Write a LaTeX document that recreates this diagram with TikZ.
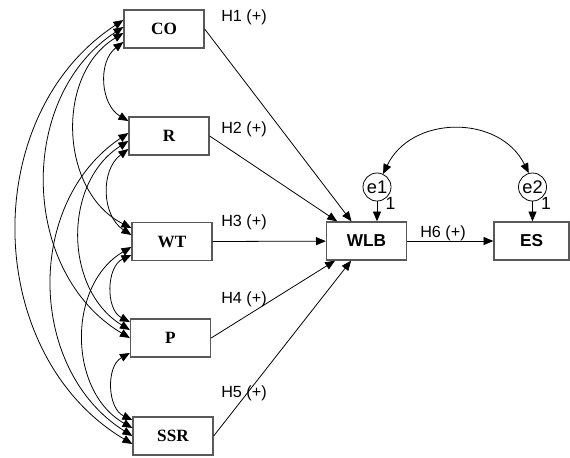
\documentclass[tikz,border=0pt]{standalone}
\usepackage{fontspec}
\setmainfont{Liberation Sans}
\newfontfamily\timesfont{Liberation Serif}
\usepackage{tikz}
\usetikzlibrary{arrows.meta}

\begin{document}
\begin{tikzpicture}[>={Triangle[length=5.6pt,width=4.6pt]}]
\tikzstyle{every path}=[line width=0.45pt]

\edef\boxw{1.6cm}
\edef\boxh{0.76cm}
\tikzstyle{varbox}=[draw=black!65,line width=0.75pt,minimum width=\boxw,minimum height=\boxh,inner sep=0pt]
\tikzstyle{exo}=[varbox,font=\timesfont\bfseries\fontsize{9.8}{11}\selectfont]
\tikzstyle{endo}=[varbox,font=\bfseries\fontsize{9.8}{11}\selectfont]
\tikzstyle{err}=[draw,circle,minimum size=0.56cm,inner sep=0pt,font=\fontsize{10.4}{11}\selectfont]
\tikzstyle{hyp}=[font=\fontsize{9.2}{11}\selectfont,inner sep=0pt]
\tikzstyle{cov}=[<->,looseness=1.05]

\useasboundingbox (0,0) rectangle (11.4,9.14);

\node [exo] (CO) at (3.28,8.56) {CO};
\node [exo] (R) at (3.38,6.42) {R};
\node [exo] (WT) at (3.44,4.31) {WT};
\node [exo] (P) at (3.41,2.38) {P};
\node [exo] (SSR) at (3.46,0.42) {SSR};

\node [endo] (WLB) at (7.33,4.32) {WLB};
\node [endo,minimum width=1.5cm] (ES) at (10.63,4.32) {ES};

\node [err] (e1) at (7.54,5.40) {e1};
\node [err] (e2) at (10.65,5.40) {e2};
\node [hyp,font=\fontsize{10}{11}\selectfont] (one1) at (7.81,5.07) {1};
\node [hyp,font=\fontsize{10}{11}\selectfont] (one2) at (10.92,5.07) {1};

\node [hyp] (h1) at (4.88,8.80) {H1 (+)};
\node [hyp] (h2) at (4.88,6.56) {H2 (+)};
\node [hyp] (h3) at (4.88,4.70) {H3 (+)};
\node [hyp] (h4) at (4.88,3.16) {H4 (+)};
\node [hyp] (h5) at (4.88,1.28) {H5 (+)};
\node [hyp] (h6) at (8.86,4.48) {H6 (+)};

\draw[->] (CO.east) -- (WLB);
\draw[->] (R.east) -- (WLB);
\draw[->] (WT.east) -- (WLB);
\draw[->] (P.east) -- (WLB);
\draw[->] (SSR.east) -- (WLB);
\draw[->] (WLB) -- (ES);

\draw[->] (e1.south) -- (e1.south |- WLB.north);
\draw[->] (e2.south) -- (e2.south |- ES.north);
\draw[cov] (e1.65) to[bend left=64,looseness=1.15] (e2.105);

\draw[cov] ([yshift=0.18cm]CO.west) to[bend right=58] ([yshift=-0.16cm]SSR.west);
\draw[cov] ([yshift=0.04cm]CO.west) to[bend right=58] ([yshift=0cm]P.west);
\draw[cov] ([yshift=-0.08cm]CO.west) to[bend right=61] ([yshift=0.27cm]WT.west);
\draw[cov] ([yshift=-0.26cm]CO.west) to[bend right=56] ([yshift=0.30cm]R.west);
\draw[cov] ([yshift=0.06cm]R.west) to[bend right=57] ([yshift=0cm]SSR.west);
\draw[cov] ([yshift=-0.10cm]R.west) to[bend right=58] ([yshift=0.16cm]P.west);
\draw[cov] ([yshift=-0.26cm]R.west) to[bend right=55] ([yshift=0.13cm]WT.west);
\draw[cov] ([yshift=-0.11cm]WT.west) to[bend right=60] ([yshift=0.16cm]SSR.west);
\draw[cov] ([yshift=-0.27cm]WT.west) to[bend right=64] ([yshift=0.32cm]P.west);
\draw[cov] ([yshift=-0.30cm]P.west) to[bend right=63] ([yshift=0.32cm]SSR.west);
\end{tikzpicture}
\end{document}
